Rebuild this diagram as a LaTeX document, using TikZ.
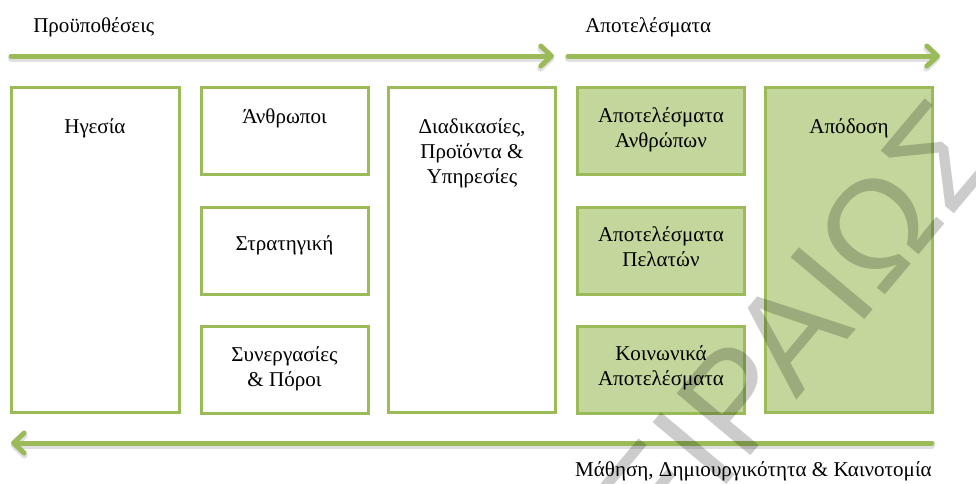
\documentclass[tikz,border=0pt]{standalone}
\usepackage{fontspec}
\setmainfont{Liberation Serif}
\newfontfamily\markfont{Liberation Sans}
\usetikzlibrary{arrows.meta}
\definecolor{accentgreen}{HTML}{9BBB59}
\definecolor{panelgreen}{HTML}{C3D69B}
\begin{document}
\begin{tikzpicture}[x=0.75pt,y=-0.75pt,
  panel/.style={draw=accentgreen, line width=2.25pt, inner sep=0pt, minimum width=125.25pt},
  tallpanel/.style={panel, minimum height=243.75pt},
  shortpanel/.style={panel, minimum height=65.25pt},
  plainfill/.style={fill=white},
  greenfill/.style={fill=panelgreen},
  caption/.style={font=\fontsize{15.8}{18.4}\selectfont, align=center, inner sep=0pt, anchor=base},
  flow/.style={draw=accentgreen, line width=3.75pt, line cap=round,
    -{Straight Barb[length=8pt,width=15pt,line cap=round,line join=round]}},
  flowshade/.style={draw=black, opacity=0.12, line width=4.5pt, line cap=round,
    -{Straight Barb[length=8pt,width=15pt,line cap=round,line join=round]}}
]
\useasboundingbox (0,0) rectangle (976,483);

% section headings
\node[caption, anchor=base west] (enablers) at (33,32) {Προϋποθέσεις};
\node[caption, anchor=base west] (results) at (585,32) {Αποτελέσματα};

% flow arrows
\coordinate (e0) at (11,56);   \coordinate (e1) at (554,56);
\coordinate (r0) at (568,56);  \coordinate (r1) at (940,56);
\coordinate (l0) at (932,443); \coordinate (l1) at (11,443);
\draw[flowshade, transform canvas={yshift=-2pt}] (e0) -- (e1);
\draw[flowshade, transform canvas={yshift=-2pt}] (r0) -- (r1);
\draw[flowshade, transform canvas={yshift=-2pt}] (l0) -- (l1);
\draw[flow] (e0) -- (e1);
\draw[flow] (r0) -- (r1);
\draw[flow] (l0) -- (l1);

% enabler boxes
\node[tallpanel, plainfill, minimum width=126pt] (lead) at (95.5,250) {};
\node[shortpanel, plainfill] (people) at (284.5,131) {};
\node[shortpanel, plainfill] (strategy) at (284.5,250.5) {};
\node[shortpanel, plainfill] (partners) at (284.5,369.5) {};
\node[tallpanel, plainfill] (process) at (472,250) {};

% result boxes
\node[shortpanel, greenfill] (peopleres) at (661,131) {};
\node[shortpanel, greenfill] (custres) at (661,250.5) {};
\node[shortpanel, greenfill] (socres) at (661,369.5) {};
\node[tallpanel, greenfill] (perf) at (849,250) {};

% box texts (base anchor = baseline of the last line)
\node[caption] (leadt) at (95,133) {Ηγεσία};
\node[caption] (peoplet) at (284.5,123) {Άνθρωποι};
\node[caption] (strategyt) at (284.5,250) {Στρατηγική};
\node[caption] (partnerst) at (284.5,386) {Συνεργασίες\\\& Πόροι};
\node[caption] (processt) at (472,183) {Διαδικασίες,\\Προϊόντα \&\\Υπηρεσίες};
\node[caption] (peoplerest) at (661,147) {Αποτελέσματα\\Ανθρώπων};
\node[caption] (custrest) at (661,266) {Αποτελέσματα\\Πελατών};
\node[caption] (socrest) at (661,385) {Κοινωνικά\\Αποτελέσματα};
\node[caption] (perft) at (849,133) {Απόδοση};

% learning loop label
\node[caption, anchor=base east] (learning) at (932,476) {Μάθηση, Δημιουργικότητα \& Καινοτομία};

% watermark
\begin{scope}
\clip (0,0) rectangle (976,483);
\node[font=\markfont\fontsize{105}{105}\selectfont, text=black, opacity=0.2,
  rotate=50, anchor=base, inner sep=0pt] (mark) at (799,398) {ΠΕΙΡΑΙΩΣ};
\end{scope}
\end{tikzpicture}
\end{document}
